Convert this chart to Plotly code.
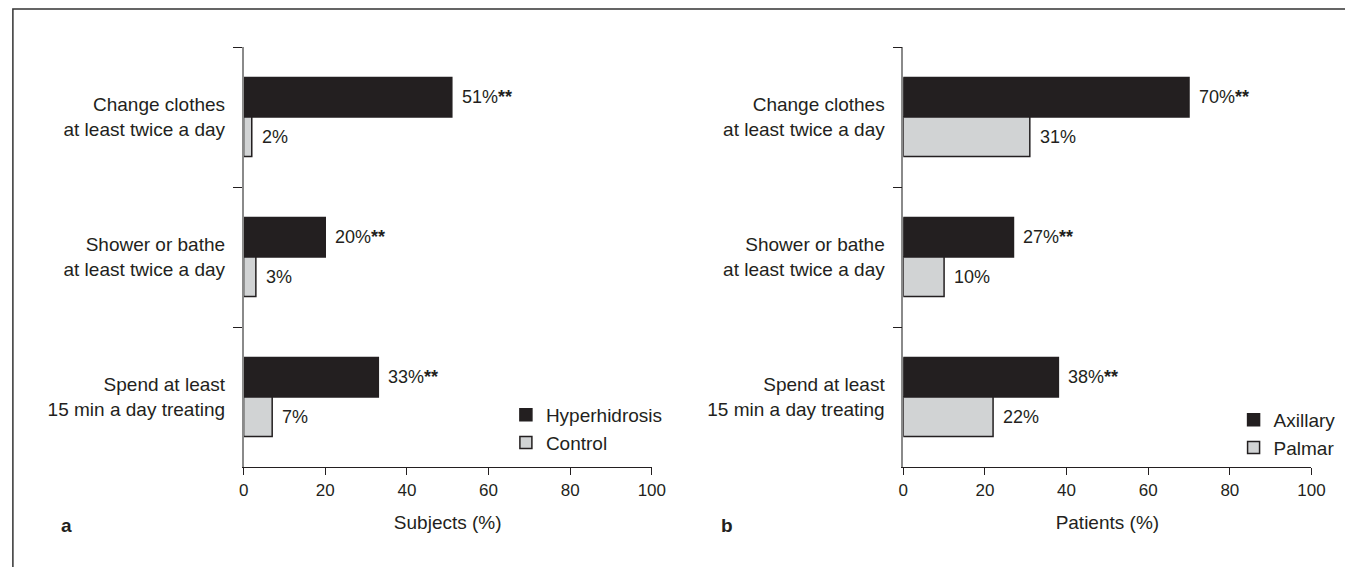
import plotly.graph_objects as go

# Data
categories = [
    "Change clothes<br>at least twice a day",
    "Shower or bathe<br>at least twice a day",
    "Spend at least<br>15 min a day treating",
]
hyperhidrosis = [51, 20, 33]
control = [2, 3, 7]
axillary = [70, 27, 38]
palmar = [31, 10, 22]
significant_a = [True, True, True]
significant_b = [True, True, True]
x_ticks = [0, 20, 40, 60, 80, 100]

W, H = 1359, 567
DARK = "#231f20"
LIGHT = "#d1d3d4"
FONT = "Liberation Sans, Arial, sans-serif"


def px_x(px):
    return px / W


def px_y(px):
    return 1 - px / H


fig = go.Figure()

panels = [
    dict(xa="x", ya="y", legend="legend",
         series=[("Hyperhidrosis", hyperhidrosis, DARK, significant_a),
                 ("Control", control, LIGHT, None)]),
    dict(xa="x2", ya="y2", legend="legend2",
         series=[("Axillary", axillary, DARK, significant_b),
                 ("Palmar", palmar, LIGHT, None)]),
]

for p in panels:
    for name, vals, color, sig in p["series"]:
        fig.add_trace(go.Bar(
            x=vals, y=categories, orientation="h", name=name,
            marker=dict(color=color, line=dict(color=DARK, width=1.5)),
            xaxis=p["xa"], yaxis=p["ya"], legend=p["legend"],
            hoverinfo="skip",
        ))
    # value labels next to bar ends
    for k, (name, vals, color, sig) in enumerate(p["series"]):
        shift = 20 if k == 0 else -20
        for i, v in enumerate(vals):
            txt = f"{v}%"
            if sig is not None and sig[i]:
                txt += "<b>**</b>"
            fig.add_annotation(
                x=v, y=categories[i], xref=p["xa"], yref=p["ya"],
                text=txt, showarrow=False, xanchor="left", yanchor="middle",
                xshift=8, yshift=shift,
                font=dict(family=FONT, size=18, color=DARK),
            )

y_dom = [px_y(467), px_y(47)]
common_x = dict(
    range=[0, 100], tickvals=x_ticks, ticks="outside", ticklen=7,
    tickcolor=DARK, tickwidth=1.2, showline=True, linecolor=DARK, linewidth=1.2,
    showgrid=False, zeroline=False,
    tickfont=dict(family=FONT, size=17, color=DARK),
    title_font=dict(family=FONT, size=19, color=DARK), title_standoff=17,
)
common_y = dict(
    type="category", categoryorder="array", categoryarray=categories,
    range=[2.5, -0.5], tickson="boundaries", ticks="outside", ticklen=9,
    tickcolor=DARK, tickwidth=1.2, showline=True, linecolor="#8a8a8a",
    linewidth=1.5, showgrid=False, zeroline=False, ticklabelstandoff=13,
    tickfont=dict(family=FONT, size=19, color=DARK), domain=y_dom,
)

fig.update_layout(
    width=W, height=H, margin=dict(l=0, r=0, t=0, b=0),
    paper_bgcolor="white", plot_bgcolor="white",
    barmode="group", bargap=0.436, bargroupgap=0,
    font=dict(family=FONT, color=DARK),
    xaxis=dict(domain=[px_x(242), px_x(656)], anchor="y",
               title_text="Subjects (%)", **common_x),
    yaxis=dict(anchor="x", **common_y),
    xaxis2=dict(domain=[px_x(911), px_x(1325)], anchor="y2",
                title_text="Patients (%)", **common_x),
    yaxis2=dict(anchor="x2", **common_y),
    legend=dict(x=px_x(508), y=px_y(396), xanchor="left", yanchor="top",
                bgcolor="rgba(0,0,0,0)", traceorder="normal",
                font=dict(family=FONT, size=19, color=DARK)),
    legend2=dict(x=px_x(1246), y=px_y(401), xanchor="left", yanchor="top",
                 bgcolor="rgba(0,0,0,0)", traceorder="normal",
                 font=dict(family=FONT, size=19, color=DARK)),
    showlegend=True,
)

# panel letters
for letter, xp in [("a", 62), ("b", 732)]:
    fig.add_annotation(x=px_x(xp), y=px_y(525), xref="paper", yref="paper",
                       text=f"<b>{letter}</b>", showarrow=False,
                       xanchor="center", yanchor="middle",
                       font=dict(family=FONT, size=19, color=DARK))

# frame lines along the top and left edges (one open path)
fig.add_shape(type="path", xref="paper", yref="paper",
              path=f"M {px_x(8)},0 L {px_x(8)},{px_y(9)} L 1,{px_y(9)}",
              line=dict(color="#333333", width=1.5))

fig.write_html("out.html")
